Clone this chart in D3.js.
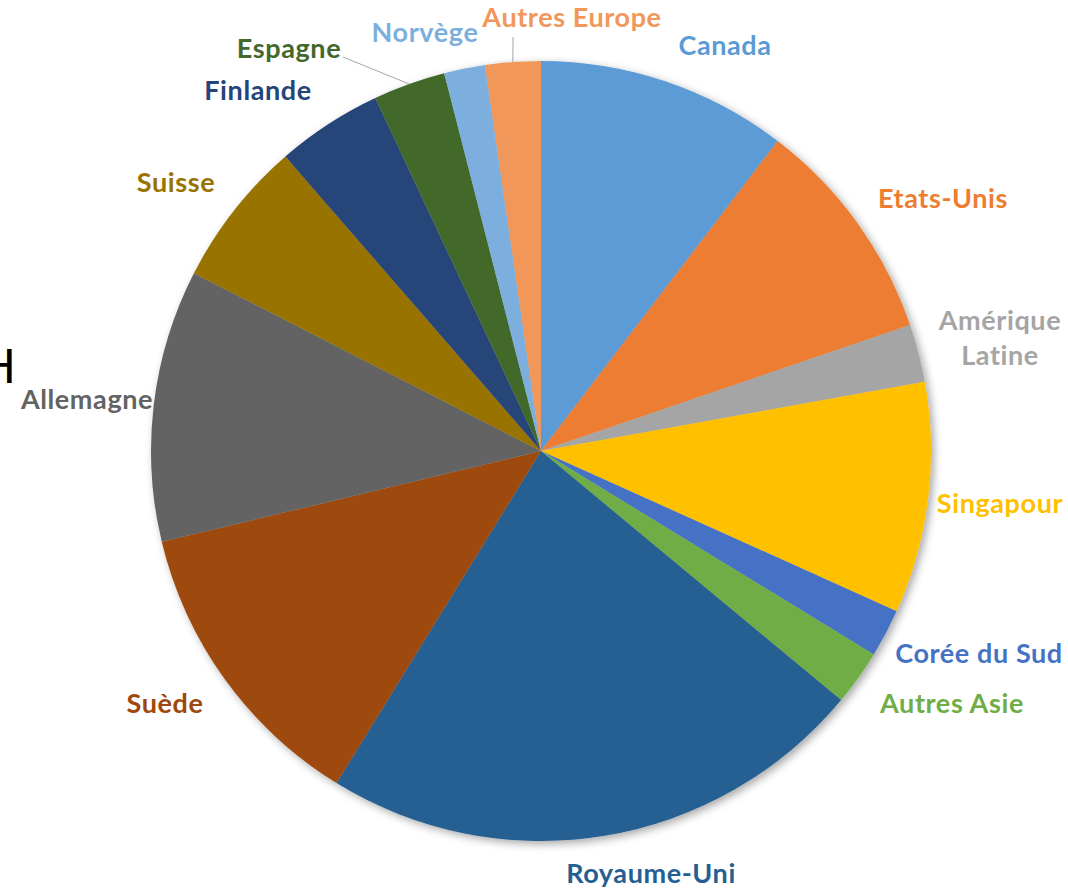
<!DOCTYPE html>
<html>
<head>
<meta charset="utf-8">
<script src="https://cdn.jsdelivr.net/npm/d3@7"></script>
<style>
  body { margin: 0; background: #fff; }
  svg text { font-family: Lato, "Open Sans", sans-serif; font-weight: bold; }
</style>
</head>
<body>
<div class="container"></div>
<script>
// parts, clockwise from 12 o'clock
var pays = ['Canada', 'Etats-Unis', 'Amérique Latine', 'Singapour', 'Corée du Sud', 'Autres Asie',
    'Royaume-Uni', 'Suède', 'Allemagne', 'Suisse', 'Finlande', 'Espagne', 'Norvège', 'Autres Europe'];
var parts = [10.4, 9.4, 2.4, 9.6, 2.0, 2.3, 22.8, 12.5, 11.3, 6.1, 4.4, 3.0, 1.7, 2.3];
var couleurs = ['#5B9BD5', '#ED7D31', '#A5A5A5', '#FFC000', '#4472C4', '#70AD47',
    '#255E91', '#9E480E', '#636363', '#997300', '#264478', '#43682B', '#7CAFDD', '#F1975A'];

// where excel dropped each label (text centre x, baseline y)
var etiquettes = {
    'Canada': [725, 55],
    'Etats-Unis': [943, 208],
    'Amérique Latine': [1000, 330],
    'Singapour': [1000, 513],
    'Corée du Sud': [979, 663],
    'Autres Asie': [952, 713],
    'Royaume-Uni': [651, 883],
    'Suède': [165, 713],
    'Allemagne': [87, 409],
    'Suisse': [176, 192],
    'Finlande': [258, 100],
    'Espagne': [289, 58],
    'Norvège': [425, 42],
    'Autres Europe': [572, 27]
};
// labels tied to their slice with a grey line
var reliees = { 'Espagne': [343, 57], 'Autres Europe': [513, 37] };

var loadChart = function () {
    const WIDTH = 1068, HEIGHT = 890;
    const CX = 541, CY = 451, R = 390;

    var svg = d3.select('.container').append('svg')
        .attr('width', WIDTH).attr('height', HEIGHT);

    var defs = svg.append('defs');
    var f = defs.append('filter').attr('id', 'ombre')
        .attr('x', '-10%').attr('y', '-10%').attr('width', '120%').attr('height', '120%');
    f.append('feDropShadow').attr('dx', 3).attr('dy', 3).attr('stdDeviation', 4)
        .attr('flood-color', '#000').attr('flood-opacity', 0.35);

    var data = pays.map(function (p, i) { return { pays: p, part: parts[i], couleur: couleurs[i] }; });

    var pie = d3.pie().sort(null).value(function (d) { return d.part; });
    var arc = d3.arc().innerRadius(0).outerRadius(R);
    var bord = d3.arc().innerRadius(R).outerRadius(R);
    var arcs = pie(data);

    var g = svg.append('g').attr('transform', 'translate(' + CX + ',' + CY + ')');
    g.append('g').attr('filter', 'url(#ombre)')
        .selectAll('path').data(arcs).enter().append('path')
        .attr('d', arc)
        .attr('fill', function (d) { return d.data.couleur; });

    // leader lines
    arcs.filter(function (d) { return reliees[d.data.pays]; }).forEach(function (d) {
        var a = reliees[d.data.pays];
        var c = bord.centroid(d);
        svg.append('line')
            .attr('x1', a[0]).attr('y1', a[1])
            .attr('x2', CX + c[0]).attr('y2', CY + c[1])
            .attr('stroke', '#A6A6A6').attr('stroke-width', 1);
    });

    // labels
    arcs.forEach(function (d) {
        var p = etiquettes[d.data.pays];
        var t = svg.append('text')
            .attr('x', p[0]).attr('y', p[1])
            .attr('text-anchor', 'middle')
            .attr('font-size', 27)
            .attr('letter-spacing', 0.6)
            .attr('fill', d.data.couleur);
        if (d.data.pays === 'Amérique Latine') {
            t.append('tspan').attr('x', p[0]).text('Amérique');
            t.append('tspan').attr('x', p[0]).attr('dy', 35).text('Latine');
        } else {
            t.text(d.data.pays);
        }
    });

    // stray glyph at the left edge
    svg.append('text')
        .attr('x', 16).attr('y', 383)
        .attr('text-anchor', 'end')
        .attr('font-size', 46)
        .style('font-family', 'DejaVu Sans')
        .style('font-weight', 'normal')
        .attr('fill', '#000')
        .text('H');
};

window.onload = loadChart;
</script>
</body>
</html>
